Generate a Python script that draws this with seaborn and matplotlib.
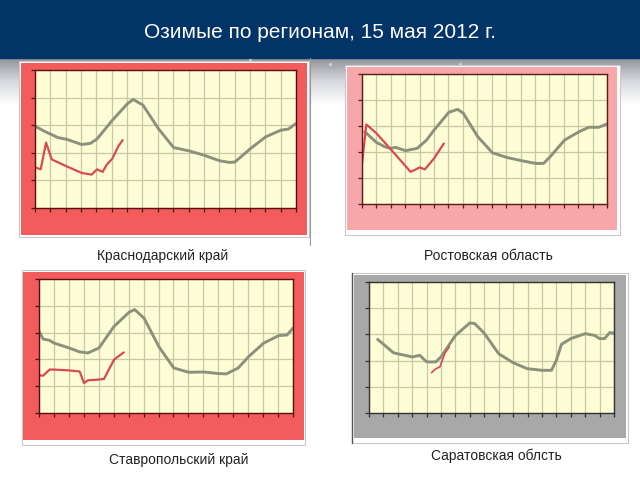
import numpy as np
import matplotlib
matplotlib.use("Agg")
import matplotlib.pyplot as plt
import seaborn as sns
from matplotlib.patches import Rectangle
from matplotlib.lines import Line2D

# ---------------- data (grid units) ----------------
title = "Озимые по регионам, 15 мая 2012 г."
region_names = ["Краснодарский край", "Ростовская область",
                "Ставропольский край", "Саратовская облсть"]

krd_norm_x = [0, 0.54, 1.5, 2.06, 3.04, 3.6, 4.04, 5.04, 6.04, 6.4, 7.03, 8.03, 9.03,
              10.03, 11.03, 12.03, 12.7, 13.03, 14.03, 15.03, 16.02, 16.5, 17]
krd_norm_y = [2.97, 2.8, 2.55, 2.49, 2.3, 2.34, 2.5, 3.18, 3.79, 3.93, 3.73, 2.88, 2.19,
              2.07, 1.91, 1.71, 1.65, 1.67, 2.15, 2.58, 2.82, 2.86, 3.06]
krd_2012_x = [0.07, 0.37, 0.72, 1.09, 2.06, 3.04, 3.69, 4.04, 4.41, 4.67, 5.04, 5.43, 5.71]
krd_2012_y = [1.46, 1.40, 2.37, 1.76, 1.51, 1.27, 1.21, 1.40, 1.31, 1.57, 1.79, 2.24, 2.46]

rost_norm_x = [0.19, 1.0, 1.58, 2.0, 2.32, 3.02, 3.83, 4.48, 5.01, 6.03, 6.64, 7.03, 8.03,
               9.05, 10.05, 11.04, 12.06, 12.6, 13.06, 14.06, 15.06, 15.73, 16.43, 17]
rost_norm_y = [2.78, 2.37, 2.2, 2.14, 2.18, 2.05, 2.14, 2.46, 2.85, 3.53, 3.64, 3.49, 2.59,
               1.97, 1.79, 1.67, 1.56, 1.56, 1.82, 2.46, 2.78, 2.95, 2.95, 3.08]
rost_2012_x = [0, 0.3, 1.0, 2.0, 3.02, 3.36, 3.67, 4.01, 4.36, 5.01, 5.68]
rost_2012_y = [1.54, 3.06, 2.72, 2.10, 1.46, 1.24, 1.31, 1.41, 1.33, 1.76, 2.33]

stav_norm_x = [0, 0.27, 0.71, 1.0, 2.0, 2.72, 3.28, 4.02, 5.02, 6.03, 6.4, 7.03, 8.04,
               9.02, 10.02, 11.03, 12.03, 12.54, 13.33, 14.04, 15.04, 16.05, 16.6, 17]
stav_norm_y = [3.05, 2.76, 2.71, 2.61, 2.43, 2.28, 2.24, 2.43, 3.23, 3.76, 3.86, 3.54, 2.46,
               1.68, 1.52, 1.53, 1.47, 1.46, 1.68, 2.11, 2.61, 2.89, 2.91, 3.17]
stav_2012_x = [0, 0.27, 0.71, 1.0, 2.0, 2.72, 3.01, 3.28, 3.84, 4.35, 5.02, 5.67]
stav_2012_y = [1.41, 1.39, 1.62, 1.62, 1.59, 1.55, 1.12, 1.22, 1.24, 1.27, 1.99, 2.26]

sar_norm_x = [0.6, 1.1, 1.69, 1.99, 3.0, 3.53, 4.0, 4.64, 4.99, 6.0, 7.0, 7.34, 7.99,
              9.0, 10.0, 10.99, 12.0, 12.66, 13.0, 13.35, 14.0, 15.01, 15.66, 16.0, 16.35, 16.7, 17]
sar_norm_y = [2.81, 2.58, 2.30, 2.26, 2.14, 2.20, 1.95, 1.95, 2.14, 2.96, 3.44, 3.41, 3.05,
              2.26, 1.92, 1.69, 1.63, 1.63, 2.01, 2.62, 2.84, 3.03, 2.96, 2.84, 2.84, 3.07, 3.05]
sar_2012_x = [4.34, 4.64, 4.92, 5.27, 5.5, 5.57]
sar_2012_y = [1.54, 1.69, 1.76, 2.29, 2.46, 2.54]

x_max = 17
y_max = 5

# ---------------- styling ----------------
sns.set_style("white")
plt.rcParams["font.family"] = ["Liberation Sans", "DejaVu Sans"]

W, H = 640, 480
fig = plt.figure(figsize=(6.4, 4.8), dpi=100)
fig.patch.set_facecolor("white")


def frect(x0, y0, x1, y1):
    return [x0 / W, 1 - y1 / H, (x1 - x0) / W, (y1 - y0) / H]


# background: gradient band under title bar
bg = fig.add_axes([0, 0, 1, 1])
bg.set_xlim(0, W)
bg.set_ylim(H, 0)
bg.axis("off")
grad = np.linspace(0, 1, 100)[:, None]
cmap = matplotlib.colors.LinearSegmentedColormap.from_list("g", ["#8e9096", "#d6d8de", "#ffffff"])
bg.imshow(grad, extent=[0, W, 105, 57], cmap=cmap, aspect="auto", zorder=0)
bg.add_patch(Rectangle((0, 0), W, 58, color="#023468", zorder=1))
bg.text(W / 2, 33, title, color="white", fontsize=15, ha="center", va="center", zorder=2)
# a few faint sparkles
for sx, sy in [(110, 62), (200, 64), (330, 64), (420, 70), (300, 72), (460, 64), (520, 66), (250, 60)]:
    bg.plot(sx, sy, "o", color="#dfe6ff", ms=1.5, alpha=0.5, zorder=1)

panels = [
    dict(outer=(21, 63, 307, 235), frame=(19, 61, 309, 237), plot=(35, 70, 296, 208),
         color="#f25c5c", nx=krd_norm_x, ny=krd_norm_y, rx=krd_2012_x, ry=krd_2012_y,
         label=(163, 256), spine="#5a1010"),
    dict(outer=(347, 67, 617, 230), frame=(345, 65, 620, 235), plot=(362, 74, 607, 204),
         color="#f7a6a9", nx=rost_norm_x, ny=rost_norm_y, rx=rost_2012_x, ry=rost_2012_y,
         label=(488, 256), spine="#5a1a1a"),
    dict(outer=(23, 272, 304, 440), frame=(22, 270, 305, 445), plot=(39, 279, 293, 413),
         color="#f25c5c", nx=stav_norm_x, ny=stav_norm_y, rx=stav_2012_x, ry=stav_2012_y,
         label=(179, 460), spine="#5a1010"),
    dict(outer=(354, 275, 626, 438), frame=(352, 273, 628, 443), plot=(369, 282, 614, 413),
         color="#a8a8a8", nx=sar_norm_x, ny=sar_norm_y, rx=sar_2012_x, ry=sar_2012_y,
         label=(496, 456), spine="#333333"),
]

for i, p in enumerate(panels):
    fx0, fy0, fx1, fy1 = p["frame"]
    bg.add_patch(Rectangle((fx0, fy0), fx1 - fx0, fy1 - fy0, facecolor="white",
                           edgecolor="#c8c8c8", lw=0.8, zorder=2))
    ox0, oy0, ox1, oy1 = p["outer"]
    bg.add_patch(Rectangle((ox0, oy0), ox1 - ox0, oy1 - oy0, facecolor=p["color"],
                           edgecolor="none", zorder=3))
    bg.text(p["label"][0], p["label"][1], region_names[i], fontsize=10, color="#222222",
            ha="center", va="center", zorder=3)

    ax = fig.add_axes(frect(*p["plot"]))
    ax.set_facecolor("#fefed6")
    ax.set_xlim(0, x_max)
    ax.set_ylim(0, y_max)
    ax.set_xticks(range(0, x_max + 1))
    ax.set_yticks(range(0, y_max + 1))
    ax.grid(True, color="#c9c8a6", lw=0.9)
    ax.set_axisbelow(True)
    for s in ax.spines.values():
        s.set_visible(True)
        s.set_color(p["spine"])
        s.set_linewidth(1.0)
    ax.tick_params(axis="both", direction="out", length=3, width=0.9, color=p["spine"],
                   labelbottom=False, labelleft=False, bottom=True, left=True)
    sns.lineplot(x=p["nx"], y=p["ny"], ax=ax, color="#8c917c", lw=2.1, sort=False,
                 estimator=None, solid_joinstyle="round", solid_capstyle="round")
    sns.lineplot(x=p["rx"], y=p["ry"], ax=ax, color="#d84a50", lw=1.6 if i < 3 else 1.2,
                 sort=False, estimator=None, solid_joinstyle="round")
    ax.set_xlabel("")
    ax.set_ylabel("")

# thin dark vertical rules beside some panels
bg.add_line(Line2D([310, 310], [58, 245], color="#9a9a9a", lw=0.8, zorder=4))
bg.add_line(Line2D([352, 352], [273, 443], color="#555555", lw=1.0, zorder=4))

fig.savefig("out.png", dpi=100)
